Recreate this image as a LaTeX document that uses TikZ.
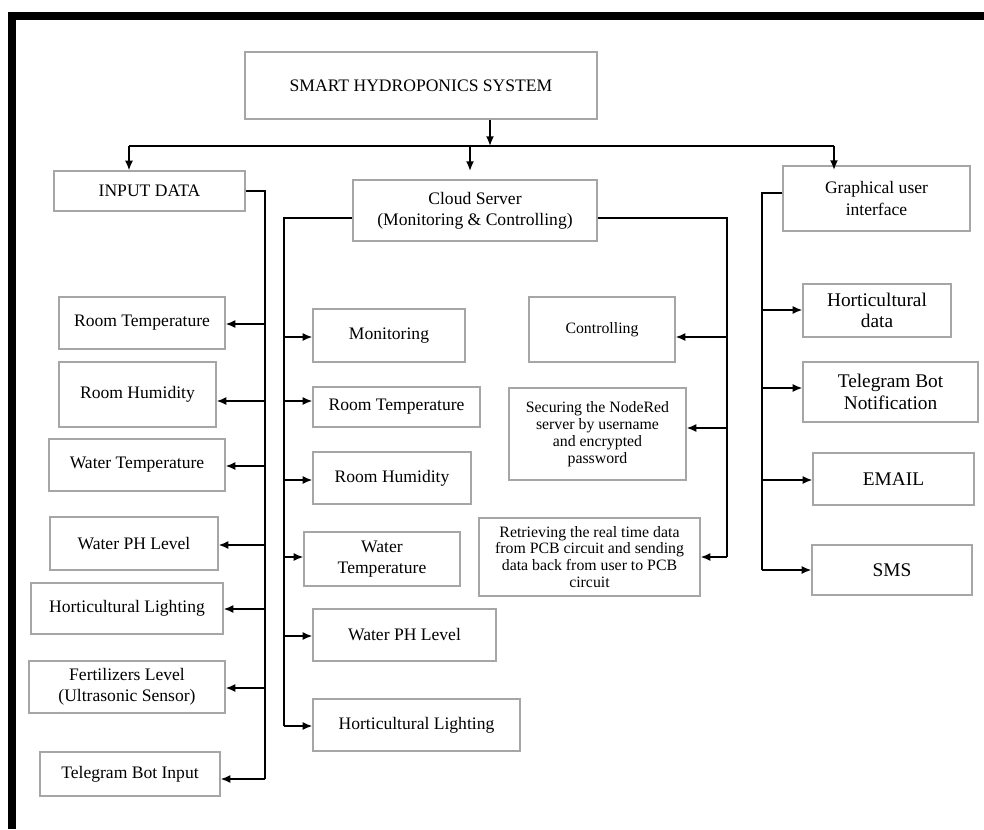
\documentclass[tikz,border=0pt]{standalone}
\usepackage{fontspec}
\setmainfont{Liberation Serif}
\usetikzlibrary{arrows.meta}

\tikzset{
	box/.style={draw=black!35, line width=0.7pt, align=center, inner sep=2pt, font=\fontsize{10}{12}\selectfont},
	smallbox/.style={box, font=\fontsize{9}{9.6}\selectfont},
	bigbox/.style={box, font=\fontsize{11}{12.2}\selectfont},
	sz/.style n args={2}{minimum width=#1*0.2mm, minimum height=#2*0.2mm},
	link/.style={line width=0.9pt},
	arr/.style={link, -{Latex[length=5.5pt,width=4.5pt]}}
}

\begin{document}
\begin{tikzpicture}[x=0.2mm, y=-0.2mm]
	\useasboundingbox (0,0) rectangle (984,829);
	% frame
	\fill (8,12) rectangle (984,19.5);
	\fill (8,12) rectangle (16,829);
	% top row
	\node[box, sz={352}{67}] (title) at (421,85.5) {SMART HYDROPONICS SYSTEM};
	\node[box, sz={191}{40}] (input) at (149.5,191) {INPUT DATA};
	\node[box, sz={244}{61}] (cloud) at (475,210.5) {Cloud Server\\(Monitoring \& Controlling)};
	\node[box, sz={187}{65}] (gui) at (876.5,198.5) {Graphical user\\interface};
	% columns
	\foreach \n/\x/\y/\w/\h/\t in {
			lrt/142/323/166/52/Room Temperature,
			lrh/137.5/394.5/157/65/Room Humidity,
			lwt/137/465/176/52/Water Temperature,
			lph/134/543.5/168/53/Water PH Level,
			lhl/127/608.5/192/51/Horticultural Lighting,
			lfl/127/687/196/52/Fertilizers Level\\(Ultrasonic Sensor),
			ltb/130/774/180/44/Telegram Bot Input,
			mmo/389/335.5/152/53/Monitoring,
			mrt/396.5/407/167/40/Room Temperature,
			mrh/392/478/158/52/Room Humidity,
			mwt/382/559/156/54/Water\\Temperature,
			mph/404.5/635/183/52/Water PH Level,
			mhl/416.5/725/207/52/Horticultural Lighting}
		\node[box, sz={\w}{\h}] (\n) at (\x,\y) {\t};
	\foreach \n/\x/\y/\w/\h/\t in {
			ctl/602/329.5/146/65/Controlling,
			sec/597.5/434/177/92/Securing the NodeRed\\server by username\\and encrypted\\password,
			ret/589.5/557/221/78/Retrieving the real time data\\from PCB circuit and sending\\data back from user to PCB\\circuit}
		\node[smallbox, sz={\w}{\h}] (\n) at (\x,\y) {\t};
	\foreach \n/\x/\y/\w/\h/\t in {
			hdt/877/310.5/148/53/Horticultural\\data,
			tbn/890.5/392/175/60/Telegram Bot\\Notification,
			eml/893.5/479/161/52/EMAIL,
			sms/892/570/160/50/SMS}
		\node[bigbox, sz={\w}{\h}] (\n) at (\x,\y) {\t};
	% buses
	\coordinate (hl) at (129,146);
	\coordinate (hr) at (834,146);
	\coordinate (lbus) at (265,779);
	\coordinate (mbus) at (284,726);
	\coordinate (cbus) at (727,557);
	\coordinate (gbus) at (762,570);
	\draw[link] (hl) -- (hr);
	\draw[arr] (title.south -| 490,0) -- (hl -| 490,0);
	\draw[arr] (hl) -- (hl |- input.north);
	\draw[arr] (hl -| 470,0) -- ++(0,25);
	\draw[arr] (hr) -- ++(0,24);
	\draw[link] (input.east) -| (lbus);
	\draw[link] (cloud.west |- 0,218) -| (mbus);
	\draw[link] (cloud.east |- 0,218) -| (cbus);
	\draw[link] (gui.west |- 0,193) -| (gbus);
	% branches
	\foreach \n/\y in {lrt/324, lrh/401, lwt/466, lph/545, lhl/609, lfl/688, ltb/779}
		\draw[arr] (lbus |- 0,\y) -- (\n.east |- 0,\y);
	\foreach \n/\y in {mmo/337, mrt/401, mrh/480, mwt/557, mph/636, mhl/726}
		\draw[arr] (mbus |- 0,\y) -- (\n.west |- 0,\y);
	\foreach \n/\y in {ctl/337, sec/428, ret/557}
		\draw[arr] (cbus |- 0,\y) -- (\n.east |- 0,\y);
	\foreach \n/\y in {hdt/310, tbn/388, eml/480, sms/570}
		\draw[arr] (gbus |- 0,\y) -- (\n.west |- 0,\y);
\end{tikzpicture}
\end{document}
